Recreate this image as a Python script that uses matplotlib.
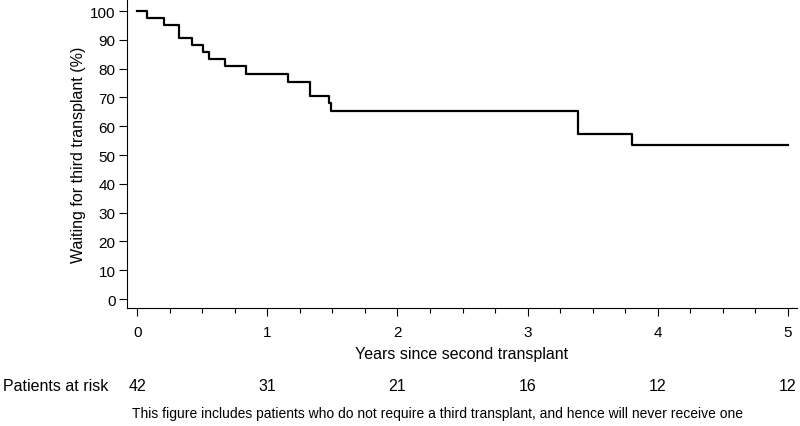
import matplotlib

matplotlib.use("Agg")
import matplotlib.pyplot as plt
from matplotlib.ticker import MultipleLocator

plt.rcParams["font.family"] = ["Liberation Sans", "DejaVu Sans"]

# Kaplan-Meier step curve (years, % still waiting)
years = [0.0, 0.077, 0.21, 0.325, 0.418, 0.508, 0.554, 0.672, 0.838, 1.159, 1.331, 1.475, 1.49, 3.387, 3.805, 5.0]
waiting = [100.0, 97.6, 95.2, 90.5, 88.1, 85.7, 83.3, 80.8, 78.2, 75.5, 70.6, 68.0, 65.4, 57.4, 53.4, 53.4]

risk_years = [0, 1, 2, 3, 4, 5]
at_risk = [42, 31, 21, 16, 12, 12]

W, H = 800, 427
fig = plt.figure(figsize=(W / 100, H / 100), dpi=100)
ax = fig.add_axes([0.1584, 0.2763, 0.8379, 0.7225])

ax.step(years, waiting, where="post", color="black", linewidth=1.6)

ax.set_xlim(-0.08, 5.07)
ax.set_ylim(-3.1, 104)
ax.set_xticks(risk_years)
ax.xaxis.set_minor_locator(MultipleLocator(0.25))
ax.set_yticks(range(0, 101, 10))

for side in ("top", "right"):
    ax.spines[side].set_visible(False)
for side in ("left", "bottom"):
    ax.spines[side].set_linewidth(0.8)

ax.tick_params(axis="both", which="major", length=6, width=0.8, labelsize=11)
ax.tick_params(axis="x", which="major", pad=6)
ax.tick_params(axis="x", which="minor", length=3.5, width=0.8)
ax.tick_params(axis="y", pad=2)

ax.set_ylabel("Waiting for third transplant (%)", fontsize=11.5, labelpad=3)
ax.set_xlabel("Years since second transplant", fontsize=11.5, labelpad=5)

# number at risk row
row_y = 1 - 387 / H
for x, n in zip(risk_years, at_risk):
    fig.text(ax.transData.transform((x, 0))[0] / W, row_y, str(n),
             ha="center", va="center", fontsize=11.5)
fig.text(3 / W, row_y, "Patients at risk", ha="left", va="center", fontsize=11.5)

fig.text(437 / W, 1 - 414 / H,
         "This figure includes patients who do not require a third transplant, and hence will never receive one",
         ha="center", va="center", fontsize=10)

fig.savefig("out.png", dpi=100)
